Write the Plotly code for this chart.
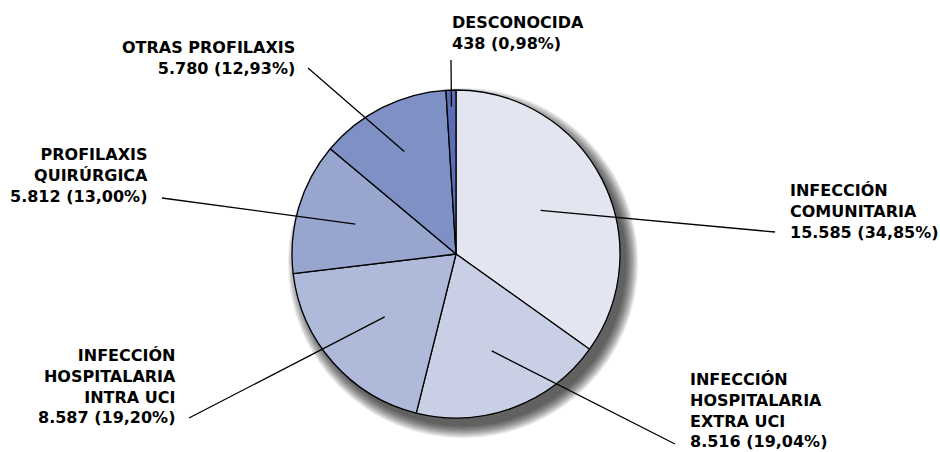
import math
import plotly.graph_objects as go

# ---- data ----
categories = [
    "INFECCIÓN<br>COMUNITARIA",
    "INFECCIÓN<br>HOSPITALARIA<br>EXTRA UCI",
    "INFECCIÓN<br>HOSPITALARIA<br>INTRA UCI",
    "PROFILAXIS<br>QUIRÚRGICA",
    "OTRAS PROFILAXIS",
    "DESCONOCIDA",
]
values = [15585, 8516, 8587, 5812, 5780, 438]

# ---- style / layout ----
colors = ["#e3e5f1", "#c9cfe4", "#afbadb", "#97a5cf", "#7f91c4", "#5b6db4"]
W, H = 940, 452
CX, CY, R = 456, 254, 164  # pie geometry in pixels
# label anchor (px), xanchor, leader outer end (px), leader inner radius fraction
label_pos = [
    (788, 211, "left", (775, 232), 0.58),
    (688, 410, "left", (675, 444), 0.63),
    (178, 386.5, "right", (189, 418), 0.58),
    (150, 176, "right", (162, 198), 0.64),
    (297, 58, "right", (308, 68), 0.70),
    (450, 32.5, "left", (451, 60), 0.90),
]
FONT = dict(family="DejaVu Sans", size=16, color="#000000")


def px(x):
    return x / W


def py(y):
    return 1 - y / H


def fmt_int(v):
    return f"{v:,}".replace(",", ".")


def fmt_pct(p):
    return f"{p:.2f}".replace(".", ",") + "%"


total = sum(values)

fig = go.Figure(
    go.Pie(
        labels=[c.replace("<br>", " ") for c in categories],
        values=values,
        sort=False,
        direction="clockwise",
        rotation=0,
        textinfo="none",
        hoverinfo="skip",
        marker=dict(colors=colors, line=dict(color="#000000", width=1.3)),
        domain=dict(x=[px(CX - R), px(CX + R)], y=[py(CY + R), py(CY - R)]),
        showlegend=False,
    )
)

shapes = []
# soft shadow (stacked translucent circles offset to lower right)
for i in range(10):
    rr = R + 11 - i * 1.3
    ox, oy = 7, 9
    shapes.append(
        dict(
            type="circle",
            xref="paper",
            yref="paper",
            x0=px(CX + ox - rr),
            x1=px(CX + ox + rr),
            y0=py(CY + oy + rr),
            y1=py(CY + oy - rr),
            fillcolor="rgba(0,0,0,0.09)",
            line=dict(width=0),
            layer="below",
        )
    )

annotations = []
cum = 0.0
for cat, v, (lx, ly, anchor, (ex, ey), frac) in zip(categories, values, label_pos):
    mid = (cum + v / 2) / total
    cum += v
    ang = math.radians(90 - mid * 360)
    ix = CX + math.cos(ang) * R * frac
    iy = CY - math.sin(ang) * R * frac
    shapes.append(
        dict(
            type="line",
            xref="paper",
            yref="paper",
            x0=px(ix),
            y0=py(iy),
            x1=px(ex),
            y1=py(ey),
            line=dict(color="#000000", width=1.3),
            layer="above",
        )
    )
    text = f"<b>{cat}<br>{fmt_int(v)} ({fmt_pct(v / total * 100)})</b>"
    annotations.append(
        dict(
            x=px(lx),
            y=py(ly),
            xref="paper",
            yref="paper",
            xanchor=anchor,
            yanchor="middle",
            align=anchor,
            text=text,
            showarrow=False,
            font=FONT,
        )
    )

fig.update_layout(
    width=W,
    height=H,
    margin=dict(l=0, r=0, t=0, b=0),
    paper_bgcolor="white",
    plot_bgcolor="white",
    shapes=shapes,
    annotations=annotations,
)

fig.write_html(
    "out.html",
    config={"displayModeBar": False},
    post_script="document.body.style.margin='0';document.body.style.overflow='hidden';",
)
